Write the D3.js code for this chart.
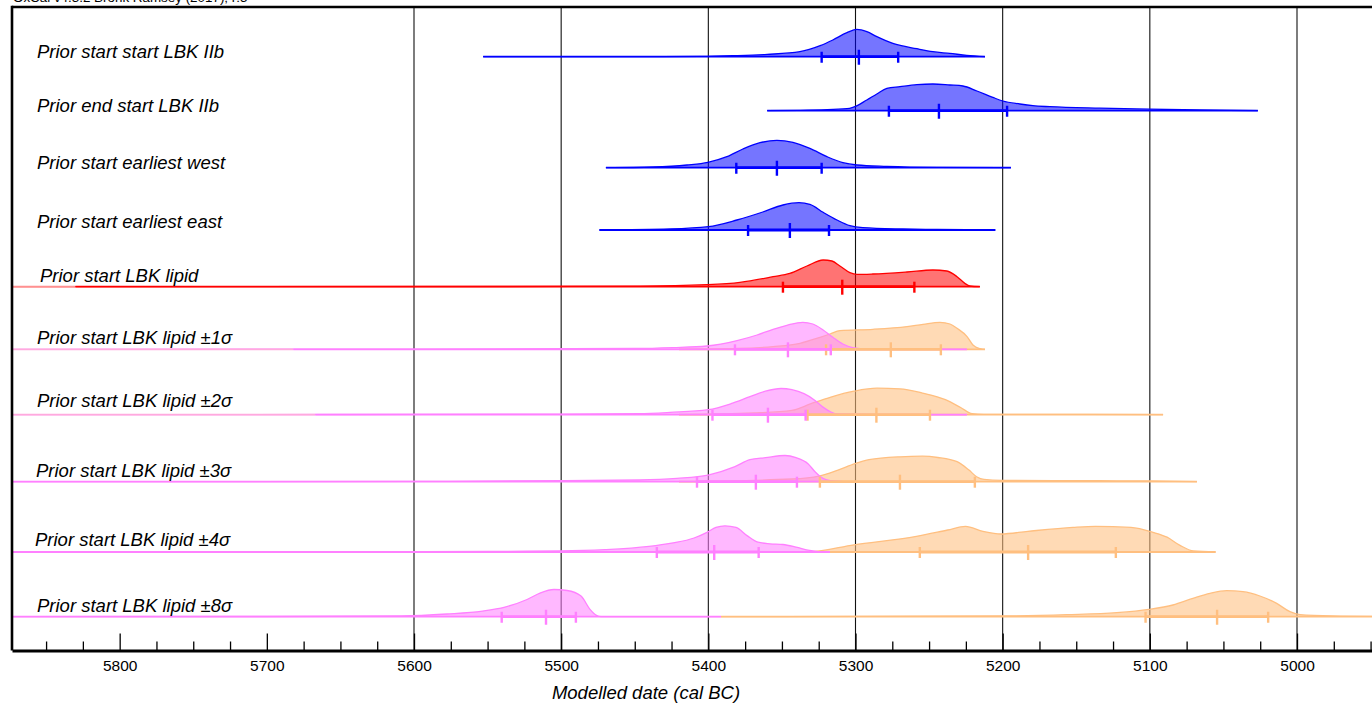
<!DOCTYPE html>
<html><head><meta charset="utf-8">
<script src="https://cdn.jsdelivr.net/npm/d3@7"></script>
<style>body{margin:0;background:#fff;overflow:hidden}svg{display:block;font-family:"Liberation Sans",Arial,sans-serif}</style>
</head><body><svg id="c" width="1372" height="705"></svg>
<script>
// ---------------- DATA ----------------
const caption = "OxCal v4.3.2 Bronk Ramsey (2017); r:5";
const xTitle = "Modelled date (cal BC)";
const rowLabels = [
  "Prior start start LBK IIb","Prior end start LBK IIb","Prior start earliest west",
  "Prior start earliest east","Prior start LBK lipid","Prior start LBK lipid \u00b11\u03c3",
  "Prior start LBK lipid \u00b12\u03c3","Prior start LBK lipid \u00b13\u03c3",
  "Prior start LBK lipid \u00b14\u03c3","Prior start LBK lipid \u00b18\u03c3"];
const majorTickLabels = [5800,5700,5600,5500,5400,5300,5200,5100,5000];
const gridYears = [5600,5500,5400,5300,5200,5100,5000];

// densities: [year cal BC, relative probability]
const dStartIIb = [[5553,0],[5450,0.1],[5405.7,0.3],[5383.3,1],[5360,2.3],[5337.8,5],[5324,11],[5315.4,16.7],[5305.8,24],[5299,27.3],[5292.3,25],[5285.5,20],[5274.6,13.3],[5258.3,8],[5247.4,5],[5235.9,3.3],[5224.3,1.3],[5212,0]];
const dEndIIb = [[5360,0],[5337.8,0.3],[5305.8,2],[5301.8,3.3],[5292.3,10.7],[5285.5,16.7],[5278.7,22.3],[5269.8,24],[5258.3,26],[5247.4,26.7],[5235.9,25.7],[5227,24.7],[5217.5,19.7],[5206.7,13.3],[5199.9,9.7],[5188.3,6.7],[5179.5,5],[5167.9,4],[5134,2.5],[5100,1.5],[5066,0.7],[5026.6,0]];
const dWest = [[5469.6,0],[5437.6,0.7],[5414.5,2.7],[5400.3,5.3],[5387.4,11],[5376.5,18.7],[5364.9,25],[5353.4,27.3],[5342.5,25.3],[5331,19.3],[5319.4,11],[5308.6,5],[5299,2.7],[5278.7,1.3],[5244.7,0.3],[5194.4,0]];
const dEast = [[5474,0],[5426,1],[5400,3.3],[5380.6,10],[5363,18],[5349.3,25],[5338.4,27.3],[5331,25.7],[5322,17.7],[5312.6,10],[5303.8,4.3],[5295,2.3],[5267.8,1],[5244.7,0.5],[5205,0]];
const dLipid = [[5873,0],[5541.6,0.2],[5446.5,0.5],[5401,2],[5378.5,4.3],[5356,10],[5344.6,13.3],[5333,20.7],[5322,26.7],[5316,25.7],[5310.6,20.7],[5303.8,14],[5299,12.3],[5288.2,12.7],[5265,14.7],[5247.4,16.7],[5237.9,15.7],[5231,10],[5225.7,3.3],[5222.3,0.7],[5215.5,0]];
const dPink1 = [[5873,0],[5600,0.2],[5450,0.8],[5424,1.7],[5401,3.3],[5380.5,8.7],[5366.9,14.3],[5356,20],[5346.6,24],[5335.8,27],[5329,25.3],[5322,19.3],[5315.4,12],[5308.6,5.3],[5301.8,1.7],[5292.3,0.3],[5260,0],[5224.3,0]];
const dOrange1 = [[5420,0],[5380,0.8],[5356,2.7],[5337.7,6],[5324.1,12],[5317.3,15.3],[5310.5,18.7],[5288.1,20],[5265,22.7],[5254.1,25],[5242.6,27],[5235.8,25.3],[5231,21],[5224.2,12.7],[5220.2,4.3],[5215.4,0.7],[5212,0]];
const dPink2 = [[5873,0],[5650,0.2],[5500,0.6],[5447,1],[5426,2.3],[5400.2,5],[5384.6,11],[5371.7,18],[5361.2,23.5],[5350.6,26.2],[5343.2,25],[5335,21],[5327.5,14.3],[5322.1,7.6],[5316.7,2.7],[5311.9,0.7],[5290,0],[5224.3,0]];
const dOrange2 = [[5420,0],[5369,1.7],[5343.2,4.3],[5330.2,11],[5316.7,17.6],[5301,23.5],[5285.4,26.5],[5269.8,25.9],[5254.5,21.6],[5238.9,15],[5228.3,7],[5220.8,1],[5212.7,0.4],[5150,0.3],[5091,0]];
const dPink3 = [[5873,0],[5600,0.3],[5500,1],[5447,1.7],[5421.3,3.3],[5400.2,6.6],[5381.9,15],[5371.7,22],[5361.2,24],[5347.9,26.2],[5340.4,24],[5332.3,18],[5327.5,10],[5322.1,3.3],[5316.7,1],[5309,0]];
const dOrange3 = [[5420,0],[5343.2,2.7],[5324.8,5.6],[5311.9,11.6],[5300.3,18],[5290.8,22],[5269.8,24.9],[5254.5,25.5],[5244,24.2],[5231,20],[5222.9,11.6],[5217.7,5],[5212.7,2.3],[5200.5,1.3],[5133.9,1],[5099.9,0.7],[5068,0]];
const dPink4 = [[5873,0],[5650,0.3],[5550,0.6],[5500.8,1],[5470.4,2.3],[5440.3,5.6],[5425,8.9],[5409.7,14],[5400.9,19.7],[5394.8,24.6],[5388.7,26.2],[5381.2,24.6],[5373.7,16.4],[5366.3,9.8],[5358.1,8.2],[5349.3,7.5],[5340.4,4.9],[5331.2,1.6],[5319.4,0],[5317.4,0]];
const dOrange4 = [[5360,0],[5331.2,0.3],[5301,7.2],[5258.6,15.7],[5237.4,22],[5225.3,25.6],[5213.4,20.7],[5201.1,18],[5182.8,20.7],[5152.2,24.6],[5136.9,25.6],[5112.8,24.6],[5097.9,19.7],[5088.3,14.8],[5079.5,6.6],[5070.3,1],[5055.3,0]];
const dPink8 = [[5873,0],[5700,0.2],[5608.2,0.7],[5577.6,2.7],[5553.5,5.6],[5538.2,9.6],[5523.2,17.2],[5514,23.9],[5504.9,27.2],[5496,26.2],[5486.5,20.6],[5480.4,7.3],[5476,1.3],[5472.9,0],[5391.4,0]];
const dOrange8 = [[5391.4,0],[5300.3,0.3],[5200.5,0.7],[5156.5,2],[5122.5,4],[5100.6,7.3],[5084.3,11.7],[5070.7,18.3],[5059.1,23.3],[5047.8,26],[5036.7,25],[5025.2,20.7],[5013.8,13.3],[5004.8,5],[4998,2],[4975.6,0.7],[4940,0.2]];

// ranges [from, median, to] (cal BC)
const rStartIIb = [5323,5297.7,5271];
const rEndIIb = [5277.3,5243.3,5197];
const rWest = [5381,5353.4,5323];
const rEast = [5373,5344.6,5318];
const rLipid = [5349.3,5309,5260];
const rPink1 = [5381.9,5345.9,5316.8], rOrange1 = [5320,5276,5242];
const rPink2 = [5397.2,5359.5,5333.9], rOrange2 = [5332.6,5285.8,5249.4];
const rPink3 = [5407.7,5367.7,5339.8], rOrange3 = [5324.2,5269.8,5218.9];
const rPink4 = [5435,5396,5365.8], rOrange4 = [5256.3,5182.7,5123.1];
const rPink8 = [5540.4,5510.3,5490], rOrange8 = [5102.9,5054.3,5019.6];

// faded part of line before full colour starts (cal BC)
const fadeUntil = {4:5830, 5:5682, 6:5667};

// ---------------- LAYOUT / STYLE ----------------
const rowY = [56.7,110.7,167.7,230,286.7,349.3,414.7,481.7,552,616.7];
const labelY = [57.5,111.5,168.5,227.5,281.5,343.5,406.5,476.5,545.5,612];
const labelX = [37,37,37,37,40,37,37,36,35,37];
const C = {
  blue:{line:"#0000ff",fill:"rgba(0,0,255,0.54)",fade:"#8080ff"},
  red:{line:"#ff0000",fill:"rgba(255,0,0,0.55)",fade:"#ff9090"},
  pink:{line:"#ff80ff",fill:"rgba(255,128,255,0.56)",fade:"#ffaadd"},
  orange:{line:"#ffbf80",fill:"rgba(255,191,128,0.58)",fade:"#ffd9b3"}
};
const series = [
  {row:0,d:dStartIIb,r:rStartIIb,c:"blue"},
  {row:1,d:dEndIIb,r:rEndIIb,c:"blue"},
  {row:2,d:dWest,r:rWest,c:"blue"},
  {row:3,d:dEast,r:rEast,c:"blue"},
  {row:4,d:dLipid,r:rLipid,c:"red"},
  {row:5,d:dOrange1,r:rOrange1,c:"orange"},{row:5,d:dPink1,r:rPink1,c:"pink"},
  {row:6,d:dOrange2,r:rOrange2,c:"orange"},{row:6,d:dPink2,r:rPink2,c:"pink"},
  {row:7,d:dOrange3,r:rOrange3,c:"orange"},{row:7,d:dPink3,r:rPink3,c:"pink"},
  {row:8,d:dOrange4,r:rOrange4,c:"orange"},{row:8,d:dPink4,r:rPink4,c:"pink"},
  {row:9,d:dOrange8,r:rOrange8,c:"orange"},{row:9,d:dPink8,r:rPink8,c:"pink"}
];

const svg = d3.select("#c");
const x = d3.scaleLinear().domain([5600,5000]).range([414,1297]);
const h = d3.scaleLinear().domain([0,28]).range([0,28]);
const plotL = 12, plotT = 7, plotB = 650.5, plotR = 1380;

svg.append("defs").append("clipPath").attr("id","pc")
  .append("rect").attr("x",plotL).attr("y",plotT).attr("width",plotR-plotL).attr("height",plotB-plotT);

// caption (mostly cut off at top)
svg.append("text").attr("x",13).attr("y",2).attr("font-size",13.4).attr("fill","#000").text(caption);

// gridlines
svg.append("g").selectAll("line").data(gridYears).join("line")
  .attr("x1",d=>x(d)).attr("x2",d=>x(d)).attr("y1",plotT).attr("y2",plotB)
  .attr("stroke","#111").attr("stroke-width",1.1);

const g = svg.append("g").attr("clip-path","url(#pc)");

series.forEach(s=>{
  const y0 = rowY[s.row], col = C[s.c];
  const area = d3.area().x(d=>x(d[0])).y0(y0).y1(d=>y0-h(d[1])).curve(d3.curveMonotoneX);
  const top = d3.line().x(d=>x(d[0])).y(d=>y0-h(d[1])).curve(d3.curveMonotoneX);
  g.append("path").attr("d",area(s.d)).attr("fill",col.fill);
  g.append("path").attr("d",top(s.d)).attr("fill","none").attr("stroke",col.line).attr("stroke-width",1.3);
  const first = s.d[0][0], last = s.d[s.d.length-1][0];
  const fu = fadeUntil[s.row];
  if (fu !== undefined && s.c !== "orange") {
    g.append("line").attr("x1",x(first)).attr("x2",x(fu)).attr("y1",y0).attr("y2",y0)
      .attr("stroke",col.fade).attr("stroke-width",1.8);
    g.append("line").attr("x1",x(fu)).attr("x2",x(last)).attr("y1",y0).attr("y2",y0)
      .attr("stroke",col.line).attr("stroke-width",1.8);
  } else {
    g.append("line").attr("x1",x(first)).attr("x2",x(last)).attr("y1",y0).attr("y2",y0)
      .attr("stroke",col.line).attr("stroke-width",1.8);
  }
});
// error bars on top
series.forEach(s=>{
  const y0 = rowY[s.row], col = C[s.c];
  const eb = g.append("g").attr("stroke",col.line);
  eb.append("line").attr("x1",x(s.r[0])).attr("x2",x(s.r[2])).attr("y1",y0).attr("y2",y0).attr("stroke-width",2.8);
  [s.r[0],s.r[2]].forEach(v=>eb.append("line").attr("x1",x(v)).attr("x2",x(v)).attr("y1",y0-5).attr("y2",y0+6).attr("stroke-width",2.4));
  eb.append("line").attr("x1",x(s.r[1])).attr("x2",x(s.r[1])).attr("y1",y0-7).attr("y2",y0+8).attr("stroke-width",2.4);
});

// row labels
svg.append("g").selectAll("text").data(rowLabels).join("text")
  .attr("x",(d,i)=>labelX[i]).attr("y",(d,i)=>labelY[i])
  .attr("font-size",18.5).attr("font-style","italic").attr("fill","#000").text(d=>d);

// frame
svg.append("line").attr("x1",plotL).attr("x2",plotL).attr("y1",plotT-1.2).attr("y2",plotB).attr("stroke","#000").attr("stroke-width",2.6);
svg.append("line").attr("x1",plotL).attr("x2",plotR).attr("y1",plotT).attr("y2",plotT).attr("stroke","#000").attr("stroke-width",2.4);

// axis
const ax = x.copy().domain([x.invert(plotL), x.invert(plotR)]).range([plotL, plotR]);
const minorVals = d3.range(4950, 5875, 25).filter(v=>v%100!==0);
const gMinor = svg.append("g").attr("transform",`translate(0,${plotB})`)
  .call(d3.axisBottom(ax).tickValues(minorVals).tickSize(-9).tickFormat(""));
gMinor.select(".domain").remove();
gMinor.selectAll("line").attr("stroke","#000").attr("stroke-width",1.3);
const gMajor = svg.append("g").attr("transform",`translate(0,${plotB})`)
  .call(d3.axisBottom(ax).tickValues(majorTickLabels).tickSize(-17).tickSizeOuter(0).tickPadding(9).tickFormat(d3.format("d")));
gMajor.select(".domain").attr("stroke","#000").attr("stroke-width",3);
gMajor.selectAll(".tick line").attr("stroke","#000").attr("stroke-width",1.3);
gMajor.selectAll("text").attr("font-size",15.5).attr("font-family","'Liberation Sans',Arial,sans-serif").attr("fill","#000");

svg.append("text").attr("x",646).attr("y",699).attr("text-anchor","middle")
  .attr("font-size",18.5).attr("font-style","italic").attr("fill","#000").text(xTitle);
</script></body></html>
